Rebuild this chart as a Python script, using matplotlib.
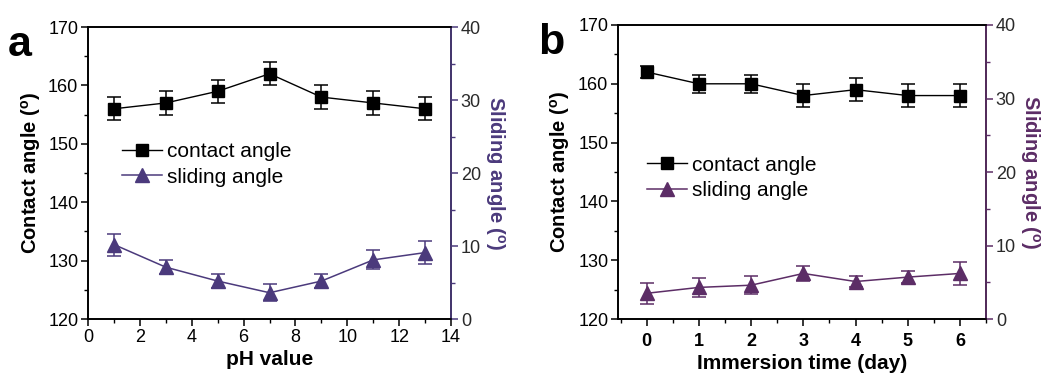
import matplotlib
matplotlib.use("Agg")
import matplotlib.pyplot as plt
import matplotlib.ticker as mticker
from matplotlib.lines import Line2D

plt.rcParams["font.family"] = ["Liberation Sans", "DejaVu Sans"]

# ─── Dados ────────────────────────────────────────────────────────────────────
ph_values     = [1, 3, 5, 7, 9, 11, 13]
ph_contact    = [156, 157, 159, 162, 158, 157, 156]
ph_contact_er = [2, 2, 2, 2, 2, 2, 2]
ph_sliding    = [10.2, 7.1, 5.2, 3.6, 5.2, 8.1, 9.1]
ph_sliding_er = [1.5, 1.0, 1.0, 1.2, 0.9, 1.3, 1.6]

days           = [0, 1, 2, 3, 4, 5, 6]
day_contact    = [162, 160, 160, 158, 159, 158, 158]
day_contact_er = [1, 1.5, 1.5, 2, 2, 2, 2]
day_sliding    = [3.5, 4.3, 4.6, 6.2, 5.1, 5.7, 6.2]
day_sliding_er = [1.4, 1.3, 1.2, 1.0, 0.8, 0.8, 1.6]

PURPLE_A = "#4b3a7c"
PURPLE_B = "#5c2d66"

fig = plt.figure(figsize=(10.42, 3.77), dpi=100)


def draw_panel(rect, x, ca, ca_er, sa, sa_er, purple, xlabel, letter,
               leg_anchor):
    ax = fig.add_axes(rect)
    ax2 = ax.twinx()
    ax.errorbar(x, ca, yerr=ca_er, color="black", marker="s", markersize=8,
                linewidth=1, elinewidth=1.1, capsize=5, capthick=1.1, zorder=3)
    ax2.errorbar(x, sa, yerr=sa_er, color=purple, marker="^", markersize=9.5,
                 linewidth=1.1, elinewidth=1.1, capsize=5, capthick=1.1, zorder=3)
    ax.set_ylim(120, 170)
    ax2.set_ylim(0, 40)
    ax.yaxis.set_major_locator(mticker.MultipleLocator(10))
    ax.yaxis.set_minor_locator(mticker.MultipleLocator(5))
    ax2.yaxis.set_major_locator(mticker.MultipleLocator(10))
    ax2.yaxis.set_minor_locator(mticker.MultipleLocator(5))

    for a in (ax, ax2):
        for s in a.spines.values():
            s.set_linewidth(1.2)
    ax2.spines["right"].set_color(purple)
    ax.tick_params(which="major", length=5, width=1.1, labelsize=13, pad=2)
    ax.tick_params(which="minor", length=3, width=1)
    ax.tick_params(top=False, which="both")
    ax2.tick_params(which="major", length=5, width=1.1, labelsize=13, pad=2,
                    colors=purple, labelcolor="#2a2a2a")
    ax2.tick_params(which="minor", length=3, width=1, colors=purple)

    ax.set_ylabel("Contact angle ($\\mathregular{^o}$)", fontsize=14.5,
                  fontweight="bold", labelpad=4)
    ax2.set_ylabel("Sliding angle ($\\mathregular{^o}$)", fontsize=14.5,
                   fontweight="bold", color=purple, rotation=270, labelpad=19)
    ax.set_xlabel(xlabel, fontsize=15, fontweight="bold", labelpad=3)

    handles = [
        Line2D([], [], color="black", marker="s", markersize=8, linewidth=1),
        Line2D([], [], color=purple, marker="^", markersize=9.5, linewidth=1.1),
    ]
    ax.legend(handles, ["contact angle", "sliding angle"], loc="center left",
              bbox_to_anchor=leg_anchor, frameon=False, fontsize=15,
              handlelength=1.9, handletextpad=0.25, labelspacing=0.3,
              borderpad=0, borderaxespad=0)
    fig.text(rect[0] - 0.077, rect[1] + rect[3] + 0.005, letter, fontsize=31,
             fontweight="bold", va="top", ha="left")
    return ax


ax_a = draw_panel([0.0845, 0.1538, 0.3484, 0.7745], ph_values, ph_contact,
                  ph_contact_er, ph_sliding, ph_sliding_er, PURPLE_A,
                  "pH value", "a", (0.094, 0.529))
ax_a.set_xlim(0, 14)
ax_a.xaxis.set_major_locator(mticker.MultipleLocator(2))
ax_a.xaxis.set_minor_locator(mticker.MultipleLocator(1))

ax_b = draw_panel([0.5931, 0.1538, 0.3532, 0.7799], days, day_contact,
                  day_contact_er, day_sliding, day_sliding_er, PURPLE_B,
                  "Immersion time (day)", "b", (0.079, 0.48))
ax_b.set_xlim(-0.55, 6.5)
ax_b.set_xticks(days)
ax_b.set_xticklabels([str(d) for d in days], fontweight="bold")
ax_b.xaxis.set_minor_locator(mticker.FixedLocator([-0.5 + i for i in range(8)]))
ax_b.tick_params(axis="x", pad=5)

plt.savefig("out.png", dpi=100)
